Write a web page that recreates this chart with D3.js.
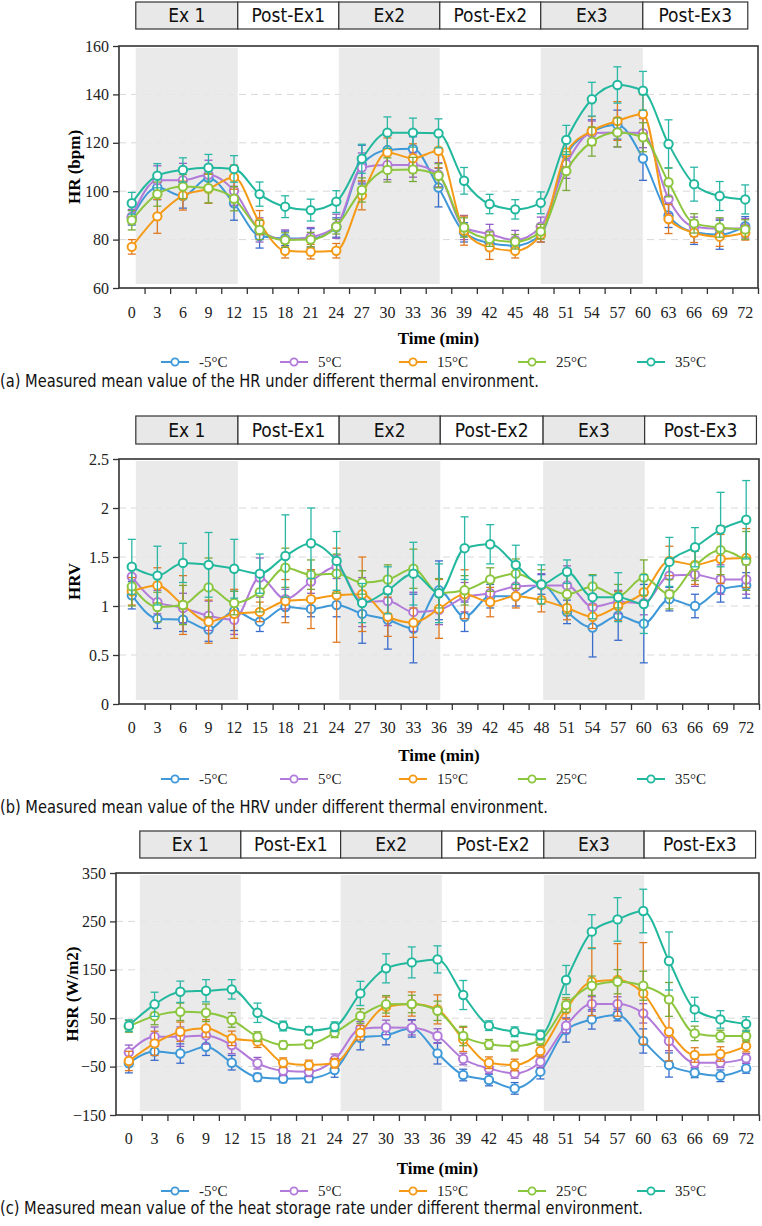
<!DOCTYPE html>
<html>
<head>
<meta charset="utf-8">
<script src="https://cdn.jsdelivr.net/npm/d3@7"></script>
<style>
  body { margin: 0; background: #fff; }
  svg { display: block; }
</style>
</head>
<body>
<svg id="chart" width="762" height="1226"></svg>
<script>
// ---- data ----
var times = [0, 3, 6, 9, 12, 15, 18, 21, 24, 27, 30, 33, 36, 39, 42, 45, 48, 51, 54, 57, 60, 63, 66, 69, 72];
var seriesNames = ["-5°C", "5°C", "15°C", "25°C", "35°C"];
var phaseNames = ["Ex 1", "Post-Ex1", "Ex2", "Post-Ex2", "Ex3", "Post-Ex3"];

// HR (bpm)
var hrM5  = [89, 101.5, 98, 105.5, 95, 81.5, 80.5, 80.5, 85, 111, 117, 117.5, 101.5, 83, 78.5, 77.5, 82, 115, 124.5, 127.5, 113.5, 90, 83, 82, 85.5];
var hr5   = [89.5, 104.5, 104.5, 106.8, 100.2, 84, 80, 81, 85.5, 109.8, 110.8, 110.8, 106.8, 85, 82.3, 79.8, 85.3, 111.3, 124, 124.3, 124, 96.8, 85.3, 84.5, 84.7];
var hr15  = [77, 89.6, 98.2, 101, 105.8, 87, 75.4, 75, 75.4, 98.3, 116, 113.6, 116.7, 83.7, 76.8, 75.4, 82, 116, 124.9, 129, 131.9, 88.5, 82.8, 81.2, 82.8];
var hr25  = [88, 98.8, 101.9, 101.2, 96.9, 84, 79.8, 80, 85.3, 100.5, 108.8, 109, 106.4, 85, 80.2, 79.1, 83.3, 108.3, 120.5, 124.3, 122.3, 103.7, 86.7, 85, 84.2];
var hr35  = [95, 106.4, 108.8, 109.7, 109.2, 98.8, 93.6, 92.2, 95.7, 113.4, 124.2, 124.2, 123.9, 104.3, 94.7, 92.5, 95.2, 121.2, 138, 143.9, 141.5, 119.5, 102.9, 98, 96.6];
var hrErrM5 = [3, 5, 5, 5, 7, 5, 3, 4, 4, 8, 6, 5, 8, 4, 3, 3, 3, 6, 5, 6, 9, 5, 5, 6, 4];
var hrErr5  = [3, 6, 7, 6, 6, 5, 4, 4, 5, 6, 6, 5, 5, 5, 4, 4, 4, 6, 5, 6, 6, 6, 4, 4, 4];
var hrErr15 = [3, 7, 6, 6, 5, 5, 3, 3, 3, 6, 6, 6, 7, 6, 5, 3, 3, 6, 6, 8, 8, 6, 4, 4, 3];
var hrErr25 = [4, 5, 5, 6, 5, 4, 3, 3, 3, 5, 5, 5, 5, 4, 3, 3, 3, 8, 6, 6, 6, 6, 4, 4, 4];
var hrErr35 = [4.5, 5, 5, 5.5, 5.5, 5, 4.5, 4.5, 4.5, 6, 6.5, 6, 6, 5.5, 4, 4, 4.5, 6, 7, 7.5, 8, 10, 7, 6, 6];

// HRV
var hrvM5 = [1.11, 0.87, 0.86, 0.76, 0.95, 0.84, 0.99, 0.97, 1.01, 0.92, 0.86, 0.77, 1.16, 0.89, 1.10, 1.10, 1.22, 0.94, 0.78, 0.90, 0.82, 1.07, 1.00, 1.17, 1.21];
var hrv5  = [1.30, 1.04, 0.98, 0.90, 0.86, 1.29, 1.07, 1.25, 1.40, 1.04, 1.05, 0.94, 0.96, 1.09, 1.13, 1.20, 1.21, 1.21, 0.99, 1.04, 1.03, 1.31, 1.32, 1.27, 1.27];
var hrv15 = [1.15, 1.21, 1.01, 0.84, 0.92, 0.94, 1.05, 1.07, 1.11, 1.12, 0.89, 0.83, 0.97, 1.12, 1.04, 1.10, 1.06, 0.98, 0.89, 1.00, 1.14, 1.46, 1.42, 1.48, 1.49];
var hrv25 = [1.20, 0.99, 1.01, 1.19, 1.03, 1.14, 1.39, 1.32, 1.33, 1.24, 1.27, 1.38, 1.13, 1.16, 1.27, 1.33, 1.22, 1.12, 1.20, 1.10, 1.29, 1.12, 1.41, 1.57, 1.46];
var hrv35 = [1.40, 1.31, 1.44, 1.42, 1.38, 1.33, 1.51, 1.64, 1.46, 1.03, 1.16, 1.33, 1.13, 1.59, 1.63, 1.42, 1.22, 1.35, 1.09, 1.09, 1.02, 1.45, 1.60, 1.78, 1.88];
var hrvErrM5 = [0.14, 0.1, 0.12, 0.12, 0.2, 0.1, 0.1, 0.08, 0.12, 0.3, 0.3, 0.35, 0.3, 0.15, 0.12, 0.1, 0.1, 0.12, 0.3, 0.25, 0.4, 0.12, 0.12, 0.13, 0.13];
var hrvErr5  = [0.12, 0.12, 0.15, 0.15, 0.15, 0.2, 0.1, 0.12, 0.12, 0.25, 0.25, 0.2, 0.15, 0.15, 0.12, 0.12, 0.12, 0.2, 0.12, 0.12, 0.12, 0.15, 0.12, 0.15, 0.15];
var hrvErr15 = [0.14, 0.18, 0.3, 0.22, 0.25, 0.1, 0.22, 0.3, 0.48, 0.38, 0.2, 0.15, 0.3, 0.25, 0.15, 0.12, 0.12, 0.12, 0.12, 0.15, 0.12, 0.15, 0.2, 0.25, 0.3];
var hrvErr25 = [0.2, 0.15, 0.2, 0.3, 0.12, 0.2, 0.2, 0.15, 0.2, 0.12, 0.15, 0.2, 0.15, 0.15, 0.12, 0.15, 0.15, 0.2, 0.12, 0.12, 0.18, 0.15, 0.15, 0.25, 0.3];
var hrvErr35 = [0.28, 0.3, 0.2, 0.33, 0.3, 0.2, 0.42, 0.36, 0.3, 0.2, 0.24, 0.32, 0.3, 0.32, 0.2, 0.2, 0.2, 0.12, 0.22, 0.25, 0.3, 0.25, 0.2, 0.38, 0.4];

// HSR (W/m2)
var hsrM5 = [-43, -19, -23, -9, -42, -72, -75, -74, -57, 9.5, 15, 29, -22.6, -67.4, -77.7, -95, -60.5, 25.6, 47.5, 56.6, 2.9, -46.7, -62.8, -69, -53.7];
var hsr5  = [-20.5, 11.8, 11.8, 14.4, -5.4, -43, -58.6, -60.5, -36, 28, 31, 30.4, 13.2, -34.3, -53.7, -64, -40, 34.6, 79.3, 79.3, 60, 2.9, -42, -42, -33];
var hsr15 = [-38.4, -2, 22, 29, 8.4, 1.5, -42, -46.7, -43, 20, 73.8, 79.3, 68.2, 6.2, -42, -46.7, -17.8, 68.2, 125.4, 129, 101.2, 22, -26, -24, -7.6];
var hsr25 = [33, 54.5, 63.2, 61.2, 46.3, 11.8, -5.4, -4, 20, 54.5, 78.7, 79.3, 65.3, 13.2, -4, -7.6, 5, 77.3, 117.1, 125.4, 117.1, 88.8, 18.6, 13.2, 13.2];
var hsr35 = [34.6, 78.7, 104.6, 106.7, 109.6, 61.2, 33.9, 24.4, 32.3, 101.2, 153, 165.3, 171.5, 97.9, 34.6, 22, 15.3, 129, 228.8, 254.1, 271.5, 168.2, 68.2, 47.5, 38];
var hsrErrM5 = [20, 18, 20, 18, 15, 8, 8, 8, 15, 25, 20, 18, 22, 12, 12, 12, 15, 25, 20, 12, 25, 25, 10, 12, 10];
var hsrErr5  = [15, 20, 20, 18, 18, 12, 10, 10, 12, 15, 15, 15, 15, 12, 10, 10, 12, 15, 15, 15, 20, 20, 10, 10, 10];
var hsrErr15 = [20, 25, 20, 18, 15, 12, 10, 10, 10, 15, 20, 25, 30, 25, 12, 12, 12, 20, 70, 75, 105, 60, 15, 15, 12];
var hsrErr25 = [12, 18, 18, 18, 15, 10, 8, 8, 10, 15, 18, 18, 20, 20, 10, 10, 10, 15, 20, 25, 30, 35, 15, 12, 12];
var hsrErr35 = [12, 25, 22, 23, 20, 20, 10, 8, 10, 25, 30, 32, 28, 30, 10, 10, 10, 30, 35, 45, 45, 60, 25, 18, 15];

// ---- styles ----
var lineColors = ["#3f98d8", "#b27ad9", "#f59a16", "#8cc63e", "#22b89e"];
var errColors  = ["#3a6ccc", "#9560c6", "#e07a22", "#79aa38", "#2ab7a6"];
var serif = "'Liberation Serif', 'Times New Roman', serif";
var narrow = "'Liberation Sans Narrow', 'DejaVu Sans Condensed', 'Open Sans', sans-serif";

var panels = [
  { values: [hrM5, hr5, hr15, hr25, hr35], errs: [hrErrM5, hrErr5, hrErr15, hrErr25, hrErr35],
    yDomain: [60, 160], yTicks: [60, 80, 100, 120, 140, 160], yLabel: "HR (bpm)",
    caption: "(a) Measured mean value of the HR under different thermal environment.", captionW: 539,
    left: 119, right: 758, top: 46, bottom: 288, headTop: 2, headBottom: 29,
    edges: [0.47, 12.44, 24.3, 36.15, 48.0, 59.98, 72.3],
    tickY: 312, titleY: 338, legendY: 362, captionY: 381, yLabelX: 74 },
  { values: [hrvM5, hrv5, hrv15, hrv25, hrv35], errs: [hrvErrM5, hrvErr5, hrvErr15, hrvErr25, hrvErr35],
    yDomain: [0, 2.5], yTicks: [0, 0.5, 1, 1.5, 2, 2.5], yLabel: "HRV",
    caption: "(b) Measured mean value of the HRV under different thermal environment.", captionW: 548,
    left: 119, right: 759, top: 459, bottom: 704, headTop: 416, headBottom: 444,
    edges: [0.47, 12.44, 24.3, 36.15, 48.2, 60.1, 73.2],
    tickY: 727, titleY: 755, legendY: 779, captionY: 807, yLabelX: 74 },
  { values: [hsrM5, hsr5, hsr15, hsr25, hsr35], errs: [hsrErrM5, hsrErr5, hsrErr15, hsrErr25, hsrErr35],
    yDomain: [-150, 350], yTicks: [-150, -50, 50, 150, 250, 350], yLabel: "HSR (W/m2)",
    caption: "(c) Measured mean value of the heat storage rate under different thermal environment.", captionW: 643,
    left: 116, right: 759, top: 873, bottom: 1115, headTop: 831, headBottom: 858,
    edges: [1.28, 13.06, 24.7, 36.5, 48.4, 60.1, 73.1],
    tickY: 1138, titleY: 1168, legendY: 1191, captionY: 1208, yLabelX: 72 }
];

var svg = d3.select("#chart");

panels.forEach(function(p) {
  var g = svg.append("g");

  var x = d3.scaleBand().domain(times).range([p.left, p.right]);
  var bw = x.bandwidth();
  var xc = function(t) { return x(t) + bw / 2; };
  var xt = d3.scaleLinear().domain([0, 72]).range([xc(0), xc(72)]);
  var xi = d3.scaleLinear().domain([0, times.length]).range([p.left, p.right]);
  var y = d3.scaleLinear().domain(p.yDomain).range([p.bottom, p.top]);

  // phase header boxes
  var phases = phaseNames.map(function(n, i) { return { name: n, a: p.edges[i], b: p.edges[i + 1], ex: i % 2 === 0 }; });
  var head = g.append("g");
  head.selectAll("rect").data(phases).enter().append("rect")
      .attr("x", function(d) { return xt(d.a); })
      .attr("y", p.headTop)
      .attr("width", function(d) { return xt(d.b) - xt(d.a); })
      .attr("height", p.headBottom - p.headTop)
      .attr("fill", function(d) { return d.ex ? "#e8e8e8" : "#fff"; })
      .attr("stroke", "#333").attr("stroke-width", 1.2);
  head.selectAll("text").data(phases).enter().append("text")
      .attr("x", function(d) { return (xt(d.a) + xt(d.b)) / 2; })
      .attr("y", (p.headTop + p.headBottom) / 2)
      .attr("dy", "0.36em")
      .attr("text-anchor", "middle")
      .style("font-family", narrow).style("font-size", "19px").attr("fill", "#111")
      .text(function(d) { return d.name; });

  // grid
  g.append("g").selectAll("line").data(p.yTicks.slice(1, -1)).enter().append("line")
      .attr("x1", p.left).attr("x2", p.right)
      .attr("y1", function(d) { return y(d); }).attr("y2", function(d) { return y(d); })
      .attr("stroke", "#d8d8d8").attr("stroke-dasharray", "7,5");

  // shading for exercise phases
  g.append("g").selectAll("rect").data(phases.filter(function(d) { return d.ex; })).enter().append("rect")
      .attr("x", function(d) { return xt(d.a); })
      .attr("y", p.top + 2)
      .attr("width", function(d) { return xt(d.b) - xt(d.a); })
      .attr("height", p.bottom - p.top - 6)
      .attr("fill", "#e6e6e6").attr("opacity", 0.85);

  // axes
  var yAxis = g.append("g")
      .attr("transform", "translate(" + p.left + ",0)")
      .call(d3.axisLeft(y).tickValues(p.yTicks).tickSize(6).tickPadding(4).tickFormat(d3.format("~g")));
  yAxis.select(".domain").remove();
  yAxis.attr("font-family", null);
  yAxis.selectAll("text").style("font-family", serif).style("font-size", "16px").attr("fill", "#222");
  yAxis.selectAll("line").attr("stroke", "#333").attr("stroke-width", 1.3);

  var xTicks = g.append("g")
      .attr("transform", "translate(0," + p.bottom + ")")
      .call(d3.axisBottom(xi).tickValues(d3.range(1, times.length + 1)).tickSize(6).tickFormat(""));
  xTicks.select(".domain").remove();
  xTicks.selectAll("line").attr("stroke", "#333").attr("stroke-width", 1.3);

  var xLabels = g.append("g")
      .attr("transform", "translate(0," + p.bottom + ")")
      .call(d3.axisBottom(x).tickSize(0).tickPadding(0));
  xLabels.select(".domain").remove();
  xLabels.attr("font-family", null);
  xLabels.selectAll("text")
      .attr("y", p.tickY - p.bottom).attr("dy", "0.35em")
      .style("font-family", serif).style("font-size", "16px").attr("fill", "#222");

  // frame
  g.append("rect")
      .attr("x", p.left).attr("y", p.top)
      .attr("width", p.right - p.left).attr("height", p.bottom - p.top)
      .attr("fill", "none").attr("stroke", "#333").attr("stroke-width", 1.6);

  // series
  var series = p.values.map(function(vals, s) {
    return { s: s, pts: vals.map(function(v, i) { return { t: times[i], v: v, e: p.errs[s][i] }; }) };
  });

  var line = d3.line()
      .x(function(d) { return xc(d.t); })
      .y(function(d) { return y(d.v); })
      .curve(d3.curveMonotoneX);

  var sg = g.append("g").selectAll("g").data(series).enter().append("g");

  sg.each(function(sd) {
    var el = d3.select(this);
    var col = errColors[sd.s];
    var eb = el.append("g").selectAll("g").data(sd.pts).enter().append("g")
        .attr("stroke", col).attr("stroke-width", 1.3).attr("fill", "none");
    eb.append("line")
        .attr("x1", function(d) { return xc(d.t); }).attr("x2", function(d) { return xc(d.t); })
        .attr("y1", function(d) { return y(d.v - d.e); }).attr("y2", function(d) { return y(d.v + d.e); });
    eb.append("line")
        .attr("x1", function(d) { return xc(d.t) - 4; }).attr("x2", function(d) { return xc(d.t) + 4; })
        .attr("y1", function(d) { return y(d.v + d.e); }).attr("y2", function(d) { return y(d.v + d.e); });
    eb.append("line")
        .attr("x1", function(d) { return xc(d.t) - 4; }).attr("x2", function(d) { return xc(d.t) + 4; })
        .attr("y1", function(d) { return y(d.v - d.e); }).attr("y2", function(d) { return y(d.v - d.e); });
  });

  sg.append("path")
      .attr("d", function(d) { return line(d.pts); })
      .attr("fill", "none")
      .attr("stroke", function(d) { return lineColors[d.s]; })
      .attr("stroke-width", 2);

  sg.each(function(sd) {
    d3.select(this).append("g").selectAll("circle").data(sd.pts).enter().append("circle")
        .attr("cx", function(d) { return xc(d.t); })
        .attr("cy", function(d) { return y(d.v); })
        .attr("r", 4.2)
        .attr("fill", "#fff")
        .attr("stroke", lineColors[sd.s])
        .attr("stroke-width", 2);
  });

  // axis titles
  g.append("text")
      .attr("x", (p.left + p.right) / 2).attr("y", p.titleY).attr("dy", "0.35em")
      .attr("text-anchor", "middle")
      .style("font-family", serif).style("font-size", "17px").style("font-weight", "bold")
      .text("Time (min)");

  g.append("text")
      .attr("transform", "translate(" + p.yLabelX + "," + ((p.top + p.bottom) / 2) + ") rotate(-90)")
      .attr("dy", "0.35em")
      .attr("text-anchor", "middle")
      .style("font-family", serif).style("font-size", "17px").style("font-weight", "bold")
      .text(p.yLabel);

  // legend
  var leg = g.append("g").selectAll("g").data(seriesNames).enter().append("g")
      .attr("transform", function(d, i) { return "translate(" + (161 + i * 119) + "," + p.legendY + ")"; });
  leg.append("line").attr("x1", 0).attr("x2", 28).attr("y1", 0).attr("y2", 0)
      .attr("stroke", function(d, i) { return lineColors[i]; }).attr("stroke-width", 2);
  leg.append("circle").attr("cx", 14).attr("cy", 0).attr("r", 3.6)
      .attr("fill", "#fff").attr("stroke", function(d, i) { return lineColors[i]; }).attr("stroke-width", 1.8);
  leg.append("text").attr("x", 38).attr("dy", "0.35em")
      .style("font-family", serif).style("font-size", "15px").attr("fill", "#222")
      .text(function(d) { return d; });

  // caption
  g.append("text")
      .attr("x", 0).attr("y", p.captionY).attr("dy", "0.35em")
      .attr("textLength", p.captionW).attr("lengthAdjust", "spacingAndGlyphs")
      .style("font-family", narrow).style("font-size", "17px").attr("fill", "#111")
      .text(p.caption);
});
</script>
</body>
</html>
